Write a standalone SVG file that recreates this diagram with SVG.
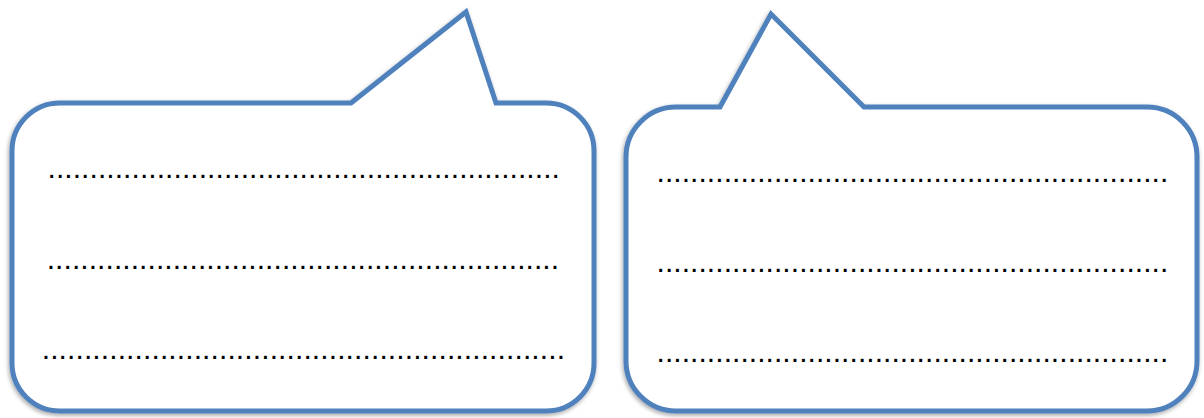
<svg xmlns="http://www.w3.org/2000/svg" width="1204" height="418" viewBox="0 0 1204 418">
  <defs>
    <filter id="shadow" x="-5%" y="-5%" width="110%" height="115%">
      <feDropShadow dx="-1" dy="2" stdDeviation="2" flood-color="#000" flood-opacity="0.35"/>
    </filter>
    <style>
      .bubble { fill: #ffffff; stroke: #4F81BD; stroke-width: 5; stroke-linejoin: miter; filter: url(#shadow); }
      .dots { font-family: "Liberation Sans", Arial, sans-serif; font-size: 30px; fill: #000000; }
    </style>
  </defs>
  <rect width="1204" height="418" fill="#ffffff"/>
  <g id="bubble-left">
    <path class="bubble" d="M 351,103 L 466,12 L 496,103 L 546,103 A 48 48 0 0 1 594,151 L 594,363 A 48 48 0 0 1 546,411 L 60,411 A 48 48 0 0 1 12,363 L 12,151 A 48 48 0 0 1 60,103 Z"/>
    <text class="dots" x="47.5" y="177.5" textLength="512.4" lengthAdjust="spacing">.............................................................</text>
    <text class="dots" x="46.7" y="268.8" textLength="512.4" lengthAdjust="spacing">.............................................................</text>
    <text class="dots" x="41.7" y="359.2" textLength="523.3" lengthAdjust="spacing">..............................................................</text>
  </g>
  <g id="bubble-right">
    <path class="bubble" d="M 720,107 L 771,14 L 864,107 L 1147,107 A 50 50 0 0 1 1197,157 L 1197,361 A 50 50 0 0 1 1147,411 L 676,411 A 50 50 0 0 1 626,361 L 626,157 A 50 50 0 0 1 676,107 Z"/>
    <text class="dots" x="656.5" y="181.5" textLength="511.8" lengthAdjust="spacing">.............................................................</text>
    <text class="dots" x="656.5" y="272.2" textLength="511.8" lengthAdjust="spacing">.............................................................</text>
    <text class="dots" x="656.5" y="362.2" textLength="511.8" lengthAdjust="spacing">.............................................................</text>
  </g>
  <g id="connectors"></g>
</svg>
